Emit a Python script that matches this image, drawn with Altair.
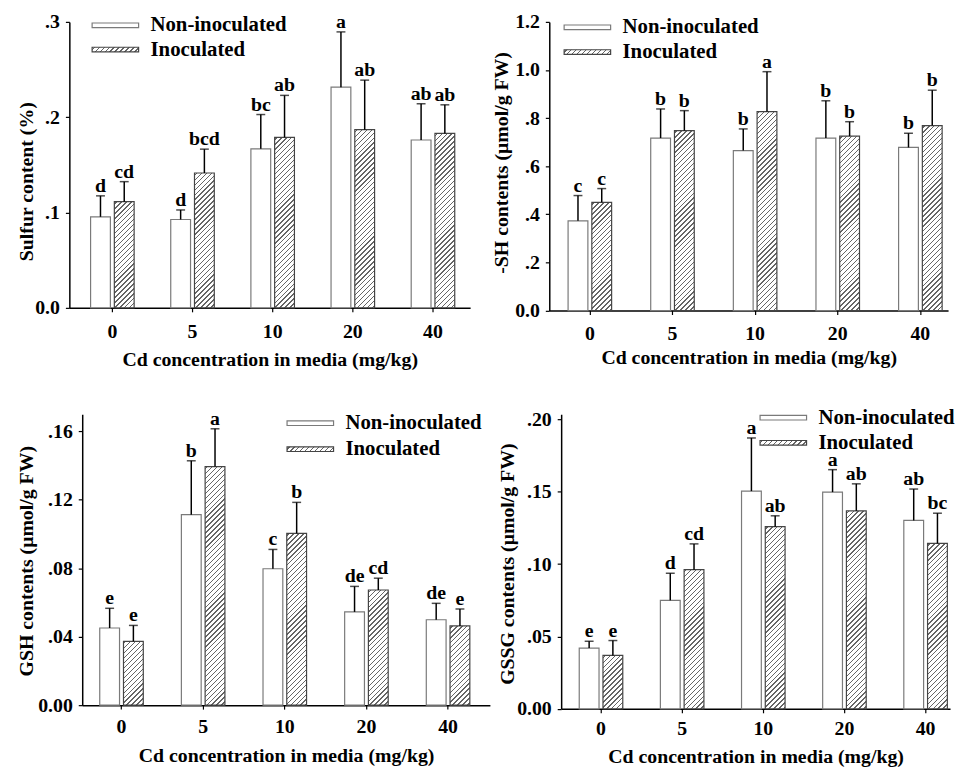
import altair as alt

# ---------------- data ----------------
doses = ["0", "5", "10", "20", "40"]
treatments = ["Non-inoculated", "Inoculated"]

# Sulfur content (%)
s_non = [0.0955, 0.0927, 0.1668, 0.2315, 0.1761]
s_non_se = [0.022, 0.010, 0.036, 0.058, 0.038]
s_ino = [0.1114, 0.1415, 0.1789, 0.1869, 0.1830]
s_ino_se = [0.021, 0.025, 0.044, 0.052, 0.030]
s_non_let = ["d", "d", "bc", "a", "ab"]
s_ino_let = ["cd", "bcd", "ab", "ab", "ab"]

# -SH contents (umol/g FW)
sh_non = [0.373, 0.717, 0.665, 0.717, 0.678]
sh_non_se = [0.105, 0.121, 0.090, 0.155, 0.059]
sh_ino = [0.450, 0.748, 0.827, 0.725, 0.769]
sh_ino_se = [0.057, 0.083, 0.166, 0.060, 0.147]
sh_non_let = ["c", "b", "b", "b", "b"]
sh_ino_let = ["c", "b", "a", "b", "b"]

# GSH contents (umol/g FW)
gsh_non = [0.0451, 0.1113, 0.0797, 0.0545, 0.0499]
gsh_non_se = [0.0115, 0.0315, 0.0113, 0.0149, 0.0096]
gsh_ino = [0.0373, 0.1394, 0.1004, 0.0673, 0.0463]
gsh_ino_se = [0.0093, 0.0221, 0.0181, 0.0069, 0.0099]
gsh_non_let = ["e", "b", "c", "de", "de"]
gsh_ino_let = ["e", "a", "b", "cd", "e"]

# GSSG contents (umol/g FW)
gssg_non = [0.0420, 0.0750, 0.1505, 0.1498, 0.1302]
gssg_non_se = [0.0047, 0.0187, 0.0367, 0.0155, 0.0217]
gssg_ino = [0.0369, 0.0962, 0.1259, 0.1368, 0.1143]
gssg_ino_se = [0.0103, 0.0178, 0.0075, 0.0187, 0.0209]
gssg_non_let = ["e", "d", "a", "a", "ab"]
gssg_ino_let = ["e", "cd", "ab", "ab", "bc"]

x_title = "Cd concentration in media (mg/kg)"

# ---------------- style ----------------
FONT = "Liberation Serif"
BAR_W = 20.0
BAR_GAP = 4.0
HATCH_INK = "#666666"
PAPER = "#ffffff"
SWATCH_PATH = "M-4,-0.4H4V0.4H-4Z"
SWATCH_SIZE = 138


def hatch_gradient(w, h, period=5.0, lw=1.4):
    """Diagonal '/' hatch drawn as a sharp-stop linear gradient (bbox units)."""
    h = max(h, 0.5)
    L = (w * w + h * h) / w
    a = max(1.0, (w + h) / L)
    span = a * L
    stops = [{"offset": 0.0, "color": PAPER}]
    k = 0
    while True:
        c = k * period + period / 2.0
        s = (c - lw / 2.0) / span
        e = (c + lw / 2.0) / span
        if s >= 1.0 or c - lw / 2.0 > w + h:
            break
        e = min(e, 1.0)
        s = round(s, 5)
        e = round(e, 5)
        stops += [
            {"offset": s, "color": PAPER},
            {"offset": s, "color": HATCH_INK},
            {"offset": e, "color": HATCH_INK},
            {"offset": e, "color": PAPER},
        ]
        k += 1
    stops.append({"offset": 1.0, "color": PAPER})
    return {"gradient": "linear", "x1": 0, "y1": 0, "x2": round(a, 5),
            "y2": round(a * h / w, 5), "stops": stops}


def gradient_expr(g):
    st = ",".join("{offset:%s,color:'%s'}" % (s["offset"], s["color"]) for s in g["stops"])
    return "{gradient:'linear',x1:%s,y1:%s,x2:%s,y2:%s,stops:[%s]}" % (
        g["x1"], g["y1"], g["x2"], g["y2"], st)


swatch_grad = hatch_gradient(47.0, 4.7)
legend_fill_expr = "datum.value === 'Inoculated' ? %s : '#ffffff'" % gradient_expr(swatch_grad)


def panel(non, non_se, ino, ino_se, non_let, ino_let, cfg):
    W, H, ymax = cfg["W"], cfg["H"], cfg["ymax"]
    rows = []
    for i, d in enumerate(doses):
        for t, vals, ses, lets in ((treatments[0], non, non_se, non_let),
                                   (treatments[1], ino, ino_se, ino_let)):
            v = vals[i]
            hpx = v / ymax * H
            fill = PAPER if t == treatments[0] else hatch_gradient(BAR_W, hpx)
            rows.append({"dose": d, "treatment": t, "value": v,
                         "upper": v + ses[i], "letter": lets[i], "fill": fill})
    base = alt.Chart(alt.Data(values=rows))

    step = cfg["step"]
    pi = 1.0 - (2 * BAR_W + BAR_GAP) / step
    po = (W / step - 5 + pi) / 2.0
    x = alt.X("dose:N", sort=doses, title=x_title,
              scale=alt.Scale(paddingInner=pi, paddingOuter=po, align=cfg["align"]),
              axis=alt.Axis(labelAngle=0, labelPadding=cfg["xlabpad"],
                            titleY=cfg["xtitleY"], titleBaseline="alphabetic"))
    xo = alt.XOffset("treatment:N", sort=treatments,
                     scale=alt.Scale(domain=treatments,
                                     paddingInner=BAR_GAP / (BAR_W + BAR_GAP),
                                     paddingOuter=0))
    yaxis = alt.Axis(values=cfg["ticks"], labelExpr=cfg["labexpr"], labelPadding=6,
                     titleX=cfg["titleX"], titleY=cfg["titleY"], titleBaseline="middle",
                     titleAngle=270)
    yscale = alt.Scale(domain=[0, ymax], nice=False, zero=True)

    def yq(field):
        return alt.Y(field + ":Q", scale=yscale, axis=yaxis, title=cfg["title"], stack=None)

    bars = base.mark_bar(strokeWidth=1.2).encode(
        x=x, xOffset=xo, y=yq("value"),
        fill=alt.Fill("fill:N", scale=None, legend=None),
        stroke=alt.Stroke(
            "treatment:N", sort=treatments,
            scale=alt.Scale(domain=treatments, range=["#7a7a7a", "#444444"]),
            legend=alt.Legend(
                title=None, orient="none", legendX=cfg["legX"], legendY=cfg["legY"],
                direction="vertical", symbolType=SWATCH_PATH, symbolSize=SWATCH_SIZE,
                symbolStrokeWidth=1.2, symbolFillColor={"expr": legend_fill_expr},
                labelFont=FONT, labelFontSize=21, labelFontWeight="bold",
                labelColor="black", labelOffset=25, rowPadding=cfg["rowPad"], padding=0,
            ),
        ),
    )
    rules = base.mark_rule(color="black", strokeWidth=1.5).encode(
        x=x, xOffset=xo, y=yq("value"), y2="upper:Q")
    caps = base.mark_tick(color="black", thickness=1.5, size=9, orient="horizontal").encode(
        x=x, xOffset=xo, y=yq("upper"))
    letters = base.mark_text(font=FONT, fontWeight="bold", fontSize=20, color="black",
                             baseline="alphabetic", dy=-4).encode(
        x=x, xOffset=xo, y=yq("upper"), text="letter:N")
    return alt.layer(bars, rules, caps, letters).properties(width=W, height=H)


def lab(fmt, zero):
    return ("datum.value == 0 ? '%s' : (datum.value < 1 ? substring(format(datum.value, '%s'), 1)"
            " : format(datum.value, '%s'))" % (zero, fmt, fmt))


p1 = panel(s_non, s_non_se, s_ino, s_ino_se, s_non_let, s_ino_let, dict(
    W=405, H=289, step=81, align=0.58, ymax=0.3, ticks=[0, 0.1, 0.2, 0.3],
    labexpr=lab(".1f", "0.0"),
    title="Sulfur content (%)", titleX=-43, titleY=161, xlabpad=10, xtitleY=58,
    legX=36, legY=-7, rowPad=2.5))
p2 = panel(sh_non, sh_non_se, sh_ino, sh_ino_se, sh_non_let, sh_ino_let, dict(
    W=403, H=291.7, step=83.5, align=0.76, ymax=1.2, ticks=[0, 0.2, 0.4, 0.6, 0.8, 1.0, 1.2],
    labexpr=lab(".1f", "0.0"),
    title="-SH contents (μmol/g FW)", titleX=-48, titleY=142, xlabpad=9, xtitleY=54,
    legX=28, legY=-5, rowPad=3))
p3 = panel(gsh_non, gsh_non_se, gsh_ino, gsh_ino_se, gsh_non_let, gsh_ino_let, dict(
    W=412, H=294, step=82.5, align=0.466, ymax=0.17, ticks=[0, 0.04, 0.08, 0.12, 0.16],
    labexpr=lab(".2f", "0.00"),
    title="GSH contents (μmol/g FW)", titleX=-56, titleY=148, xlabpad=8, xtitleY=57,
    legX=220, legY=-1.5, rowPad=4.3))
p4 = panel(gssg_non, gssg_non_se, gssg_ino, gssg_ino_se, gssg_non_let, gssg_ino_let, dict(
    W=393, H=297.7, step=82, align=0.87, ymax=0.2036, ticks=[0, 0.05, 0.10, 0.15, 0.20],
    labexpr=lab(".2f", "0.00"),
    title="GSSG contents (μmol/g FW)", titleX=-54, titleY=151, xlabpad=6, xtitleY=54,
    legX=214, legY=-7, rowPad=3.4))

indep = dict(x="independent", y="independent", xOffset="independent",
             stroke="independent", fill="independent")

# invisible spacer that shifts the lower row to the right of the upper one
spacer = (alt.Chart(alt.Data(values=[{"k": 0}]))
          .mark_point(opacity=0, size=1)
          .properties(width=13, height=1))

row1 = (alt.hconcat(p1, p2, spacing=80, bounds="flush")
        .resolve_scale(**indep).resolve_legend(stroke="independent"))
inner2 = (alt.hconcat(p3, p4, spacing=72, bounds="flush")
          .resolve_scale(**indep).resolve_legend(stroke="independent"))
row2 = (alt.hconcat(spacer, inner2, spacing=0, bounds="flush")
        .resolve_scale(**indep).resolve_legend(stroke="independent"))

chart = (
    alt.concat(row1, row2, columns=1, spacing=38.5)
    .resolve_scale(**indep)
    .resolve_legend(stroke="independent")
    .properties(padding={"left": 9, "top": 0, "right": 0, "bottom": 0})
    .configure_view(strokeWidth=0)
    .configure_axis(
        labelFont=FONT, labelFontSize=20, labelFontWeight="bold", labelColor="black",
        titleFont=FONT, titleFontSize=20, titleFontWeight="bold", titleColor="black",
        domainColor="black", domainWidth=1.5, tickColor="black", tickWidth=1.2,
        tickSize=4, grid=False,
    )
)

chart.save("out.html", embed_options={"renderer": "svg", "actions": False})
